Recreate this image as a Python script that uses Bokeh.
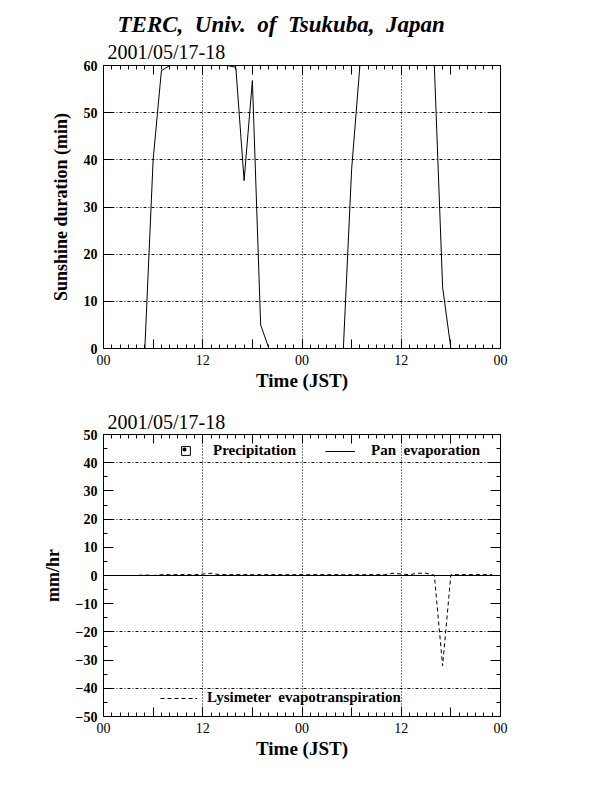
from bokeh.plotting import figure
from bokeh.models import (FixedTicker, LinearAxis, Range1d, Span, Legend, LegendItem, Title)
from bokeh.layouts import column
from bokeh.embed import file_html
from bokeh.resources import INLINE

# ---------------- data ----------------
hours = list(range(48))  # hours since 2001/05/17 00 JST
sunshine = [0, 0, 0, 0, 0, 0, 40, 58.9, 60, 60, 60, 60, 60, 60, 60, 60, 59.6, 35.6, 56.8, 5, 0, 0, 0, 0,
            0, 0, 0, 0, 0, 0, 38, 60, 60, 60, 60, 60, 60, 60, 60, 60, 60, 13, 0, 0, 0, 0, 0, 0]
precipitation = [0] * 48
pan_evaporation = [0] * 48
lysimeter = [0, 0, 0, 0, 0, 0.2, 0, 0.3, 0.3, 0.3, 0.3, 0.3, 0.5, 0.8, 0.3, 0.3, 0.3, 0.3, 0.3, 0.3, 0.3, 0.3, 0.3, 0.3,
             0.3, 0.3, 0.3, 0.3, 0.3, 0.3, 0.3, 0.3, 0.3, 0.3, 0.3, 0.8, 0.5, 0.3, 0.8, 0.8, 0.1, -32, 0.3, 0.3, 0.3, 0.3, 0.3, 0.3]
x_major = [0, 6, 12, 18, 24, 30, 36, 42, 48]
x_labels = {0: "00", 6: "", 12: "12", 18: "", 24: "00", 30: "", 36: "12", 42: "", 48: "00"}
sun_ticks = [0, 10, 20, 30, 40, 50, 60]
wat_ticks = [-50, -40, -30, -20, -10, 0, 10, 20, 30, 40, 50]
date_text = "2001/05/17-18"
main_title = "TERC,\u00a0\u00a0Univ.\u00a0\u00a0of\u00a0\u00a0Tsukuba,\u00a0\u00a0Japan"

SERIF = "Liberation Serif"


def hide_labels(ax):
    ax.major_label_text_color = None
    ax.major_label_text_font_size = "1px"
    ax.major_label_standoff = 0


def style_x(ax, labels=True):
    ax.ticker = FixedTicker(ticks=x_major, minor_ticks=list(range(49)))
    ax.major_tick_in = 9
    ax.major_tick_out = 0
    ax.minor_tick_in = 4
    ax.minor_tick_out = 0
    ax.axis_line_color = "black"
    ax.major_tick_line_color = "black"
    ax.minor_tick_line_color = "black"
    ax.major_label_text_font = SERIF
    if labels:
        ax.major_label_overrides = x_labels
        ax.major_label_text_color = "black"
        ax.major_label_text_font_size = "14px"
        ax.major_label_standoff = 6
    else:
        hide_labels(ax)


def style_y(ax, ticks, minor, labels=True):
    ax.ticker = FixedTicker(ticks=ticks, minor_ticks=minor)
    ax.major_tick_in = 10
    ax.major_tick_out = 0
    ax.minor_tick_in = 4
    ax.minor_tick_out = 0
    ax.axis_line_color = "black"
    ax.major_tick_line_color = "black"
    ax.minor_tick_line_color = "black" if minor else None
    ax.major_label_text_font = SERIF
    ax.major_label_text_font_style = "bold"
    if labels:
        ax.major_label_text_color = "black"
        ax.major_label_text_font_size = "14px"
        ax.major_label_standoff = 6
    else:
        hide_labels(ax)


def make_fig(height, top, bottom, yr, yticks, yminor, ygrid, ylabel, date_standoff):
    p = figure(width=608, height=height, output_backend="svg", toolbar_location=None, title=None,
               x_range=Range1d(0, 48), y_range=Range1d(*yr),
               min_border_left=103, min_border_right=108,
               min_border_top=top, min_border_bottom=bottom)
    p.outline_line_color = "black"
    p.background_fill_color = "white"
    p.border_fill_color = "white"
    ax_b = p.below[0]
    ax_l = p.left[0]
    style_x(ax_b)
    style_y(ax_l, yticks, yminor)
    ax_b.axis_label = "Time (JST)"
    ax_b.axis_label_text_font = SERIF
    ax_b.axis_label_text_font_style = "bold"
    ax_b.axis_label_text_font_size = "19px"
    ax_b.axis_label_text_color = "black"
    ax_b.axis_label_standoff = 2
    ax_l.axis_label = ylabel
    ax_l.axis_label_text_font = SERIF
    ax_l.axis_label_text_font_style = "bold"
    ax_l.axis_label_text_font_size = "18px"
    ax_l.axis_label_text_color = "black"
    ax_l.axis_label_standoff = 10
    ax_top = LinearAxis()
    style_x(ax_top, labels=False)
    p.add_layout(ax_top, "above")
    ax_right = LinearAxis()
    style_y(ax_right, yticks, yminor, labels=False)
    p.add_layout(ax_right, "right")
    p.xgrid.ticker = FixedTicker(ticks=[12, 24, 36])
    p.xgrid.grid_line_color = "black"
    p.xgrid.grid_line_dash = "1 2"
    p.ygrid.ticker = FixedTicker(ticks=ygrid)
    p.ygrid.grid_line_color = "black"
    p.ygrid.grid_line_dash = "3 2 1 2"
    p.add_layout(Title(text=date_text, align="left", offset=4, standoff=date_standoff, text_color="black",
                       text_font=SERIF, text_font_style="normal", text_font_size="20px"), "above")
    return p


# ---------------- top: sunshine ----------------
p1 = make_fig(406, 65, 58, (0, 60), sun_ticks, [], [10, 20, 30, 40, 50], "Sunshine duration (min)", 5)
p1.line(hours, sunshine, line_color="black", line_width=1)
p1.add_layout(Title(text=main_title, align="left", offset=14, standoff=0, text_color="black",
                    text_font=SERIF, text_font_style="bold italic", text_font_size="23px"), "above")

# ---------------- bottom: water ----------------
p2 = make_fig(378, 28, 68, (-50, 50), wat_ticks, list(range(-50, 51, 5)), [-40, -20, 20, 40], "mm/hr", 3)
p2.add_layout(Span(location=0, dimension="width", line_color="black", line_width=1))
r_pre = p2.vbar(x=hours, top=precipitation, width=0.8, fill_color=None, line_color="black",
                hatch_pattern="dot", hatch_color="black", hatch_scale=8)
r_pan = p2.line(hours, pan_evaporation, line_color="black", line_width=1)
r_lys = p2.line(hours, lysimeter, line_color="black", line_width=1, line_dash="4 3")


def mk_legend(label, rend, loc, gw, gh, standoff):
    lg = Legend(items=[LegendItem(label=label, renderers=[rend])], location=loc,
                glyph_width=gw, glyph_height=gh, label_standoff=standoff, padding=0, margin=0,
                spacing=0, border_line_color=None, background_fill_alpha=0,
                label_text_font=SERIF, label_text_font_style="bold", label_text_font_size="15px",
                label_text_color="black", label_height=16)
    p2.add_layout(lg, "center")


mk_legend("Precipitation", r_pre, (77, 257), 11, 11, 22)
mk_legend("Pan  evaporation", r_pan, (222, 257), 30, 16, 16)
mk_legend("Lysimeter  evapotranspiration", r_lys, (57, 10), 37, 16, 10)

layout = column(p1, p2, spacing=0)
open("out.html", "w").write(file_html(layout, INLINE))
